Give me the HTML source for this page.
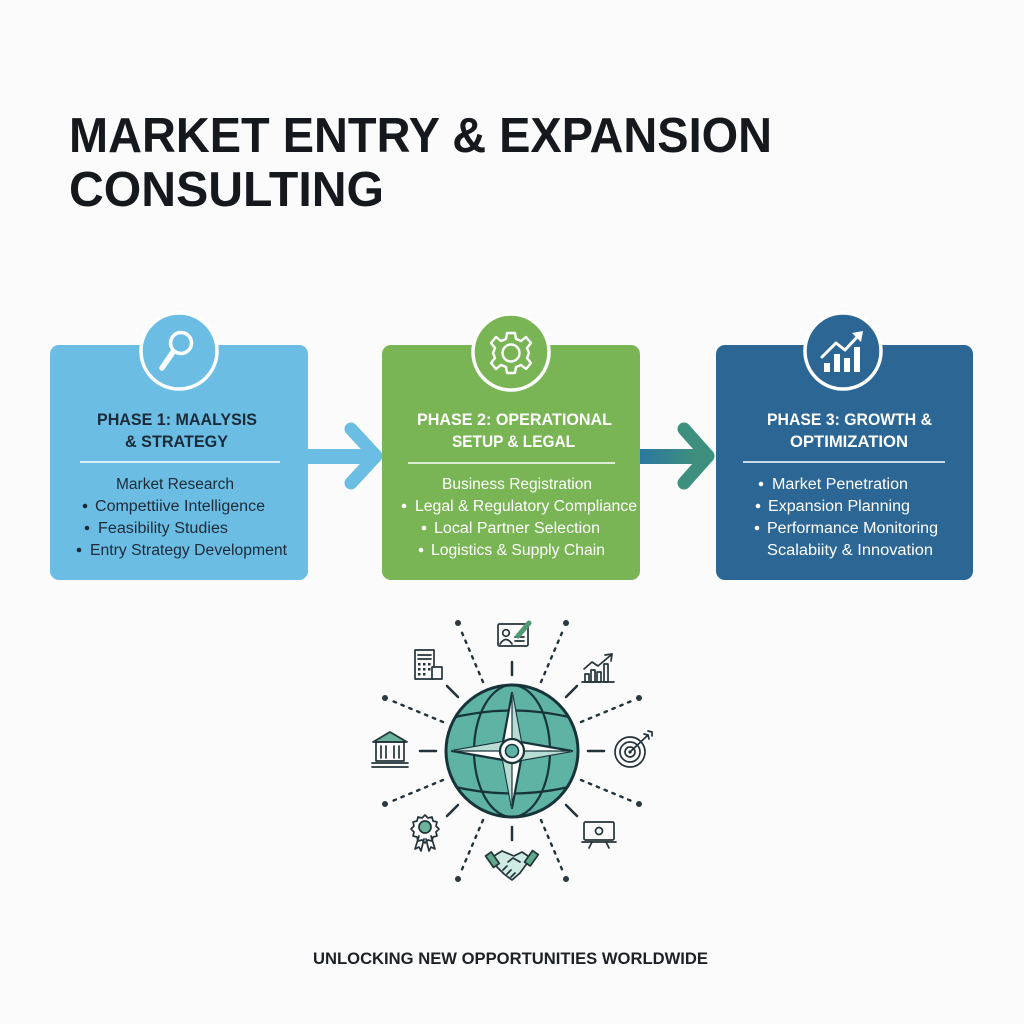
<!DOCTYPE html>
<html><head><meta charset="utf-8"><style>
html,body{margin:0;padding:0;background:#fbfbfb;}
svg{display:block;}
text{font-family:"Liberation Sans",Arial,sans-serif;}
</style></head><body>
<svg width="1024" height="1024" viewBox="0 0 1024 1024" xmlns="http://www.w3.org/2000/svg">
<defs>
<linearGradient id="ag" x1="0" x2="1" y1="0" y2="0">
<stop offset="0" stop-color="#2a74a6"/><stop offset="1" stop-color="#3f917a"/>
</linearGradient>
<clipPath id="gc"><circle cx="512" cy="751" r="65"/></clipPath>
</defs>
<rect width="1024" height="1024" fill="#fbfbfb"/>

<!-- Title -->
<text x="69" y="152" font-size="49" font-weight="700" fill="#15191e" textLength="703" lengthAdjust="spacingAndGlyphs">MARKET ENTRY &amp; EXPANSION</text>
<text x="69" y="206" font-size="49" font-weight="700" fill="#15191e" textLength="315" lengthAdjust="spacingAndGlyphs">CONSULTING</text>

<!-- Arrows -->
<rect x="300" y="449" width="68" height="15" fill="#6cbde3"/>
<polyline points="351,429 376,456 351,483" fill="none" stroke="#6cbde3" stroke-width="13" stroke-linecap="round" stroke-linejoin="round"/>
<rect x="632" y="449" width="68" height="15" fill="url(#ag)"/>
<polyline points="684,429 708,456 684,483" fill="none" stroke="#3d8f7e" stroke-width="13" stroke-linecap="round" stroke-linejoin="round"/>

<!-- Box 1 -->
<rect x="50" y="345" width="258" height="235" rx="9" fill="#6cbde3"/>
<circle cx="179" cy="351" r="38" fill="#6cbde3" stroke="#ffffff" stroke-width="3.5"/>
<circle cx="181" cy="343" r="10.5" fill="none" stroke="#fff" stroke-width="3.5"/>
<line x1="173" y1="352" x2="162" y2="368" stroke="#fff" stroke-width="5.5" stroke-linecap="round"/>
<text x="97" y="425" font-size="17" font-weight="700" fill="#1b2a38" textLength="160" lengthAdjust="spacingAndGlyphs">PHASE 1: MAALYSIS</text>
<text x="125" y="447" font-size="17" font-weight="700" fill="#1b2a38" textLength="103" lengthAdjust="spacingAndGlyphs">&amp; STRATEGY</text>
<line x1="80" y1="462" x2="280" y2="462" stroke="#fff" stroke-width="1.6"/>
<g font-size="15.5" fill="#1c2b39">
<text x="116" y="489" textLength="118" lengthAdjust="spacingAndGlyphs">Market Research</text>
<circle cx="85" cy="506" r="2.3" fill="#1c2b39"/>
<text x="95" y="511" textLength="170" lengthAdjust="spacingAndGlyphs">Compettiive Intelligence</text>
<circle cx="87" cy="528" r="2.3" fill="#1c2b39"/>
<text x="98" y="533" textLength="130" lengthAdjust="spacingAndGlyphs">Feasibility Studies</text>
<circle cx="79" cy="550" r="2.3" fill="#1c2b39"/>
<text x="90" y="555" textLength="197" lengthAdjust="spacingAndGlyphs">Entry Strategy Development</text>
</g>

<!-- Box 2 -->
<rect x="382" y="345" width="258" height="235" rx="9" fill="#79b554"/>
<circle cx="511" cy="352" r="38" fill="#79b554" stroke="#ffffff" stroke-width="3.5"/>
<g transform="translate(511,353)" fill="none" stroke="#fff" stroke-width="2.4" stroke-linejoin="round">
<path d="M-4,-20 L4,-20 L5,-14 L10,-12 L15,-16 L20,-10 L16,-5 L18,0 L16,5 L20,10 L15,16 L10,12 L5,14 L4,20 L-4,20 L-5,14 L-10,12 L-15,16 L-20,10 L-16,5 L-18,0 L-16,-5 L-20,-10 L-15,-16 L-10,-12 L-5,-14 Z"/>
<circle cx="0" cy="0" r="8.5"/>
</g>
<text x="417" y="425" font-size="17" font-weight="700" fill="#ffffff" textLength="195" lengthAdjust="spacingAndGlyphs">PHASE 2: OPERATIONAL</text>
<text x="452" y="447" font-size="17" font-weight="700" fill="#ffffff" textLength="123" lengthAdjust="spacingAndGlyphs">SETUP &amp; LEGAL</text>
<line x1="408" y1="463" x2="615" y2="463" stroke="#fff" stroke-width="1.6"/>
<g font-size="15.5" fill="#ffffff">
<text x="442" y="489" textLength="150" lengthAdjust="spacingAndGlyphs">Business Registration</text>
<circle cx="404" cy="506" r="2.3"/>
<text x="415" y="511" textLength="222" lengthAdjust="spacingAndGlyphs">Legal &amp; Regulatory Compliance</text>
<circle cx="424" cy="528" r="2.3"/>
<text x="434" y="533" textLength="166" lengthAdjust="spacingAndGlyphs">Local Partner Selection</text>
<circle cx="421" cy="550" r="2.3"/>
<text x="431" y="555" textLength="174" lengthAdjust="spacingAndGlyphs">Logistics &amp; Supply Chain</text>
</g>

<!-- Box 3 -->
<rect x="716" y="345" width="257" height="235" rx="9" fill="#2c6695"/>
<circle cx="843" cy="351" r="38" fill="#2c6695" stroke="#ffffff" stroke-width="3.5"/>
<g fill="#fff">
<rect x="824" y="363" width="6" height="9"/>
<rect x="834" y="354" width="6" height="18"/>
<rect x="844" y="358" width="6" height="14"/>
<rect x="854" y="347" width="6" height="25"/>
</g>
<polyline points="822,357 836,343 845,350 858,336" fill="none" stroke="#fff" stroke-width="3" stroke-linejoin="round" stroke-linecap="round"/>
<polygon points="863,331 852,333 861,342" fill="#fff"/>
<text x="767" y="425" font-size="17" font-weight="700" fill="#ffffff" textLength="165" lengthAdjust="spacingAndGlyphs">PHASE 3: GROWTH &amp;</text>
<text x="790" y="447" font-size="17" font-weight="700" fill="#ffffff" textLength="118" lengthAdjust="spacingAndGlyphs">OPTIMIZATION</text>
<line x1="743" y1="462" x2="945" y2="462" stroke="#fff" stroke-width="1.6"/>
<g font-size="15.5" fill="#ffffff">
<circle cx="761" cy="484" r="2.3"/>
<text x="772" y="489" textLength="136" lengthAdjust="spacingAndGlyphs">Market Penetration</text>
<circle cx="758" cy="506" r="2.3"/>
<text x="768" y="511" textLength="142" lengthAdjust="spacingAndGlyphs">Expansion Planning</text>
<circle cx="757" cy="528" r="2.3"/>
<text x="767" y="533" textLength="171" lengthAdjust="spacingAndGlyphs">Performance Monitoring</text>
<text x="767" y="555" textLength="166" lengthAdjust="spacingAndGlyphs">Scalabiity &amp; Innovation</text>
</g>

<!-- Radiating ticks -->
<g stroke="#22323a" stroke-width="2.5" stroke-linecap="round">
<line x1="512" y1="675" x2="512" y2="662"/>
<line x1="512" y1="827" x2="512" y2="840"/>
<line x1="436" y1="751" x2="420" y2="751"/>
<line x1="588" y1="751" x2="604" y2="751"/>
<line x1="458" y1="697" x2="447" y2="686"/>
<line x1="566" y1="697" x2="577" y2="686"/>
<line x1="458" y1="805" x2="447" y2="816"/>
<line x1="566" y1="805" x2="577" y2="816"/>
</g>
<!-- Dotted lines -->
<g stroke="#22323a" stroke-width="2.4" stroke-dasharray="2.5 6" stroke-linecap="round">
<line x1="483" y1="682" x2="460" y2="628"/>
<line x1="541" y1="682" x2="564" y2="628"/>
<line x1="443" y1="722" x2="390" y2="700"/>
<line x1="581" y1="722" x2="634" y2="700"/>
<line x1="443" y1="780" x2="390" y2="802"/>
<line x1="581" y1="780" x2="634" y2="802"/>
<line x1="483" y1="820" x2="460" y2="874"/>
<line x1="541" y1="820" x2="564" y2="874"/>
</g>
<g fill="#2a3a40">
<circle cx="458" cy="623" r="3"/><circle cx="566" cy="623" r="3"/>
<circle cx="385" cy="698" r="3"/><circle cx="639" cy="698" r="3"/>
<circle cx="385" cy="804" r="3"/><circle cx="639" cy="804" r="3"/>
<circle cx="458" cy="879" r="3"/><circle cx="566" cy="879" r="3"/>
</g>

<!-- Globe -->
<circle cx="512" cy="751" r="66" fill="#5fb3a5" stroke="#17343a" stroke-width="3"/>
<g clip-path="url(#gc)" fill="none" stroke="#17343a" stroke-width="2.2">
<ellipse cx="512" cy="751" rx="38" ry="66"/>
<path d="M440,721 Q512,700 584,721"/>
<path d="M440,783 Q512,804 584,783"/>
</g>
<!-- Compass star -->
<path d="M512,693 L521,742 L572,751 L521,760 L512,808 L503,760 L452,751 L503,742 Z" fill="#ffffff" stroke="#17343a" stroke-width="2.2" stroke-linejoin="round"/>
<g fill="#b8dcd4">
<polygon points="512,693 521,742 512,751"/>
<polygon points="572,751 521,760 512,751"/>
<polygon points="512,808 503,760 512,751"/>
<polygon points="452,751 503,742 512,751"/>
</g>
<g stroke="#17343a" stroke-width="1.2">
<line x1="512" y1="695" x2="512" y2="806"/>
<line x1="454" y1="751" x2="570" y2="751"/>
</g>
<circle cx="512" cy="751" r="12" fill="#ffffff" stroke="#17343a" stroke-width="2.2"/>
<circle cx="512" cy="751" r="6.5" fill="#5fb3a5" stroke="#17343a" stroke-width="1.6"/>

<!-- Icons -->
<g fill="none" stroke="#24343a" stroke-width="1.7" stroke-linejoin="round" stroke-linecap="round">
<rect x="498" y="624" width="30" height="22" rx="1.5"/>
<circle cx="506" cy="633" r="3.3"/>
<path d="M500,644 Q506,635 512,644"/>
<line x1="515" y1="637" x2="524" y2="637"/>
<line x1="515" y1="641" x2="524" y2="641"/>
<rect x="415" y="650" width="19" height="29"/>
<rect x="432" y="667" width="10" height="12" fill="#fbfbfb"/>
<line x1="418" y1="655" x2="431" y2="655"/>
<line x1="418" y1="659" x2="431" y2="659"/>
<line x1="582" y1="682" x2="614" y2="682"/>
<rect x="585" y="674" width="4" height="8"/>
<rect x="591" y="670" width="4" height="12"/>
<rect x="597" y="672" width="4" height="10"/>
<rect x="604" y="664" width="4" height="18"/>
<polyline points="584,669 592,662 598,666 611,655"/>
<polyline points="605,655 612,654 611,661"/>
<circle cx="630" cy="752" r="15"/>
<circle cx="630" cy="752" r="10"/>
<circle cx="630" cy="752" r="5"/>
<line x1="630" y1="752" x2="648" y2="735"/>
<polyline points="644,734 648,735 649,739"/>
<polyline points="648,731 652,732 652,736"/>
<rect x="584" y="822" width="30" height="18" rx="1.5"/>
<line x1="582" y1="842" x2="616" y2="842"/>
<line x1="592" y1="842" x2="589" y2="848"/>
<line x1="606" y1="842" x2="609" y2="848"/>
<circle cx="599" cy="831" r="3.5"/>
<polygon points="373,742 390,732 407,742" fill="#6ab39c"/>
<rect x="376" y="742" width="28" height="19"/>
<line x1="381" y1="746" x2="381" y2="758"/>
<line x1="386" y1="746" x2="386" y2="758"/>
<line x1="394" y1="746" x2="394" y2="758"/>
<line x1="399" y1="746" x2="399" y2="758"/>
<line x1="372" y1="763" x2="408" y2="763"/>
<line x1="372" y1="767" x2="408" y2="767"/>
<path d="M425,815 l3,3 4,-1 1,4 4,1 -1,4 3,3 -3,3 1,4 -4,1 -1,4 -4,-1 -3,3 -3,-3 -4,1 -1,-4 -4,-1 1,-4 -3,-3 3,-3 -1,-4 4,-1 1,-4 4,1 Z"/>
<circle cx="425" cy="827" r="6" fill="#6ab39c"/>
<polyline points="419,836 415,849 419,847 421,851 424,839"/>
<polyline points="431,836 435,849 431,847 429,851 426,839"/>
<path d="M494,856 L502,851 L514,856 L522,852 L531,858 L520,873 L512,880 L504,874 L496,866 Z" fill="#cfe9e3"/>
<rect x="489" y="853" width="7" height="14" transform="rotate(-35 492 860)" fill="#5fa98a"/>
<rect x="528" y="851" width="7" height="14" transform="rotate(35 531 858)" fill="#5fa98a"/>
<path d="M508,862 L513,858 L520,862"/>
<line x1="503" y1="870" x2="507" y2="866"/>
<line x1="507" y1="874" x2="511" y2="870"/>
<line x1="511" y1="877" x2="515" y2="873"/>
</g>
<g fill="#24343a">
<rect x="418" y="663" width="2.5" height="2.5"/><rect x="423" y="663" width="2.5" height="2.5"/><rect x="428" y="663" width="2.5" height="2.5"/>
<rect x="418" y="668" width="2.5" height="2.5"/><rect x="423" y="668" width="2.5" height="2.5"/><rect x="428" y="668" width="2.5" height="2.5"/>
<rect x="418" y="673" width="2.5" height="2.5"/><rect x="423" y="673" width="2.5" height="2.5"/>
<circle cx="630" cy="752" r="1.6"/>
</g>
<line x1="518" y1="636" x2="529" y2="623" stroke="#4f9a72" stroke-width="5" stroke-linecap="round"/>

<!-- Footer -->
<text x="313" y="964" font-size="16.5" font-weight="700" fill="#1d2126" textLength="395" lengthAdjust="spacingAndGlyphs">UNLOCKING NEW OPPORTUNITIES WORLDWIDE</text>
</svg>
</body></html>
